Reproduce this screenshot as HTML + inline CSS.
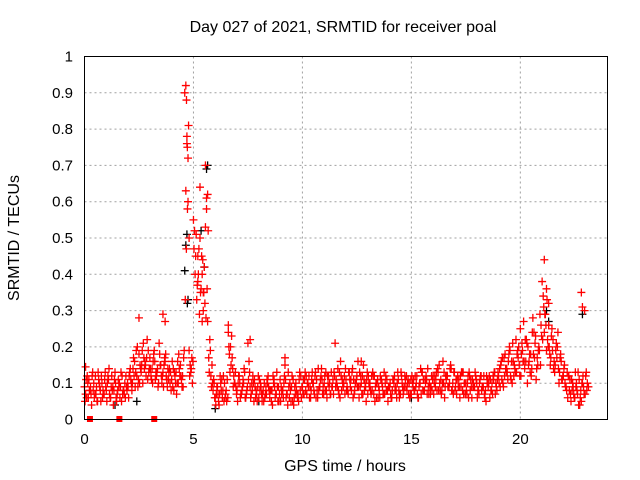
<!DOCTYPE html>
<html><head><meta charset="utf-8"><style>
body{margin:0;background:#fff}
svg{display:block;font-family:"Liberation Sans",sans-serif}
</style></head><body>
<svg id="c" width="640" height="480">
<rect width="640" height="480" fill="#fff"/>
<text x="343" y="32" font-size="16" text-anchor="middle">Day 027 of 2021, SRMTID for receiver poal</text>
<text transform="translate(19,238) rotate(-90)" font-size="16" text-anchor="middle">SRMTID / TECUs</text>
<text x="345" y="471" font-size="16" text-anchor="middle">GPS time / hours</text>
<g id="grid"></g><g id="ticks"></g><g id="black"></g><g id="red"></g>
<rect x="84.5" y="56.5" width="523" height="363" fill="none" stroke="#000"/>
</svg>
<script>
const xTicks=[0,5,10,15,20];
const yTicks=[0,0.1,0.2,0.3,0.4,0.5,0.6,0.7,0.8,0.9,1];
const yTickLabels=["0","0.1","0.2","0.3","0.4","0.5","0.6","0.7","0.8","0.9","1"];
const redA=[.09,.06,.11,.07,.08,.12,.05,.09,.10,.07,.08,.11,.06,.09,.13,.07,.10,.05,.08,.12,.09,.14,.10,.16,.12,.18,.13,.21,.15,.11,.17,.14,.19,.12,.10,.15,.13,.16,.09,.14,.11,.08,.13,.10,.15,.12,.90,.76,.19,.14,.55,.45,.38,.50,.27,.42,.61,.17,.12,.08,.06,.09,.07,.11,.05,.08,.24,.20,.14,.10,.08,.12,.07,.10,.06,.21,.09,.08,.11,.07,.06,.09,.08,.07,.10,.06,.08,.11,.07,.09,.05,.08,.15,.07,.06,.09,.04,.10,.07,.08,.09,.11,.07,.12,.08,.10,.13,.06,.09,.11,.10,.08,.12,.07,.11,.21,.09,.13,.08,.10,.11,.07,.09,.14,.08,.12,.06,.10,.15,.09,.07,.10,.08,.12,.06,.09,.11,.07,.10,.08,.09,.06,.10,.08,.11,.07,.09,.12,.08,.10,.07,.11,.09,.06,.10,.13,.08,.11,.07,.09,.12,.09,.14,.10,.08,.13,.11,.09,.15,.10,.08,.11,.09,.13,.07,.10,.12,.08,.11,.09,.10,.07,.12,.09,.08,.11,.06,.10,.13,.09,.12,.15,.10,.18,.13,.20,.16,.12,.22,.17,.25,.19,.14,.21,.16,.12,.18,.23,.15,.29,.38,.24,.19,.26,.17,.22,.15,.20,.13,.11,.14,.09,.12,.07,.10,.06,.08,.11,.05,.09,.12];
const redB=[.07,.10,.08,.12,.06,.09,.11,.05,.08,.13,.10,.07,.12,.08,.06,.11,.09,.07,.10,.08,.12,.10,.17,.13,.09,.15,.19,.14,.17,.13,.12,.16,.11,.14,.18,.10,.15,.12,.11,.13,.09,.12,.10,.14,.11,.17,.63,.72,.15,.10,.52,.33,.47,.36,.30,.53,.27,.22,.15,.10,.07,.05,.10,.08,.06,.11,.18,.23,.12,.09,.10,.06,.09,.13,.08,.16,.07,.10,.06,.09,.08,.05,.10,.07,.09,.08,.12,.06,.09,.07,.07,.10,.06,.13,.08,.05,.09,.07,.11,.06,.11,.08,.10,.09,.13,.07,.11,.08,.12,.09,.08,.12,.10,.09,.13,.11,.08,.16,.10,.07,.09,.13,.08,.11,.10,.16,.09,.12,.08,.11,.10,.07,.12,.09,.11,.06,.10,.13,.08,.09,.07,.11,.08,.10,.06,.12,.08,.09,.11,.07,.10,.08,.12,.09,.07,.11,.10,.14,.09,.08,.10,.13,.08,.11,.16,.09,.12,.10,.08,.13,.11,.09,.12,.08,.10,.07,.13,.09,.10,.12,.08,.11,.09,.07,.12,.10,.08,.12,.07,.11,.14,.11,.17,.13,.16,.12,.21,.14,.18,.15,.18,.27,.16,.20,.13,.24,.17,.14,.20,.26,.34,.29,.22,.18,.25,.16,.21,.14,.18,.12,.10,.13,.08,.11,.07,.09,.13,.06,.10,.30,.08];
const redC=[.05,.12,.08,.04,.10,.07,.13,.08,.06,.11,.05,.14,.09,.04,.10,.08,.06,.12,.07,.09,.06,.11,.14,.09,.20,.10,.15,.17,.12,.19,.14,.10,.16,.13,.21,.12,.09,.18,.14,.10,.16,.13,.07,.18,.12,.09,.33,.58,.12,.17,.47,.51,.40,.35,.44,.32,.36,.13,.09,.11,.04,.07,.12,.06,.10,.05,.20,.15,.09,.13,.05,.10,.08,.14,.07,.11,.06,.12,.09,.05,.11,.07,.05,.09,.12,.08,.04,.09,.13,.05,.09,.06,.11,.04,.10,.12,.06,.08,.05,.12,.07,.13,.10,.06,.11,.08,.06,.14,.11,.07,.12,.06,.09,.13,.07,.09,.14,.06,.11,.12,.08,.13,.11,.06,.10,.09,.13,.07,.11,.05,.12,.08,.13,.05,.10,.08,.11,.07,.12,.05,.10,.08,.12,.06,.08,.13,.07,.11,.10,.06,.12,.08,.10,.06,.14,.08,.11,.07,.10,.12,.07,.11,.13,.08,.10,.06,.12,.09,.14,.07,.09,.12,.06,.13,.10,.08,.06,.11,.09,.13,.06,.10,.08,.12,.05,.09,.11,.07,.13,.08,.10,.16,.09,.14,.11,.19,.10,.15,.13,.20,.12,.16,.22,.10,.18,.14,.24,.11,.19,.15,.22,.29,.33,.20,.23,.14,.19,.24,.17,.11,.15,.08,.12,.05,.09,.13,.07,.04,.10,.07,.13,.09];
const redD=[.11,.06,.09,.13,.07,.05,.10,.12,.07,.09,.12,.06,.08,.11,.05,.09,.13,.08,.06,.10,.13,.08,.12,.19,.11,.14,.10,.16,.22,.14,.11,.18,.13,.09,.15,.12,.17,.11,.13,.08,.14,.10,.16,.12,.09,.19,.47,.81,.13,.16,.40,.37,.29,.45,.35,.28,.52,.19,.10,.06,.09,.04,.08,.12,.07,.06,.13,.17,.10,.07,.12,.07,.11,.06,.09,.13,.10,.05,.08,.12,.10,.07,.06,.11,.08,.05,.10,.07,.05,.11,.08,.12,.07,.09,.05,.11,.07,.06,.13,.09,.07,.12,.09,.06,.10,.12,.08,.09,.14,.07,.13,.10,.07,.09,.12,.10,.07,.12,.09,.14,.08,.11,.13,.07,.11,.09,.12,.07,.10,.13,.09,.12,.07,.10,.06,.12,.09,.07,.11,.09,.06,.11,.09,.13,.07,.10,.09,.12,.07,.11,.09,.12,.07,.10,.13,.08,.12,.09,.07,.11,.12,.08,.15,.07,.10,.12,.09,.14,.08,.13,.07,.11,.09,.13,.07,.10,.12,.06,.09,.11,.08,.12,.09,.06,.10,.12,.08,.11,.10,.13,.09,.17,.12,.14,.18,.11,.16,.13,.19,.12,.21,.16,.22,.15,.18,.28,.21,.17,.19,.23,.31,.26,.20,.15,.19,.13,.17,.10,.16,.12,.09,.06,.11,.08,.06,.10,.04,.08,.12,.07,.10];
const redExtraHours=[4.65,4.7,4.72,4.75,4.8,5.3,5.6,5.65,5.55,2.5,3.6,3.7,6.6,7.6,21.1,21.2,21.3,22.8,22.85,9.2,12.7,0.05,5.4,5.45,5.2,4.68];
const redExtraValues=[.92,.78,.75,.60,.50,.64,.58,.62,.70,.28,.29,.27,.26,.22,.44,.36,.32,.35,.31,.17,.16,.145,.40,.35,.45,.88];
const blackHours=[4.65,4.6,4.7,4.75,5.65,5.6,21.2,22.85,1.4,2.4,6.0,8.0,15.0,4.72,5.35,5.5,21.3];
const blackValues=[.48,.41,.51,.33,.70,.69,.30,.29,.04,.05,.03,.05,.06,.32,.52,.42,.27];
const zeroHours=[0.25,1.6,3.2];
const X=h=>84.5+h*523/24, Y=v=>419.5-v*363;
const ns="http://www.w3.org/2000/svg";
function mk(tag,attrs,parent){const e=document.createElementNS(ns,tag);for(const k in attrs)e.setAttribute(k,attrs[k]);parent.appendChild(e);return e;}
const grid=document.getElementById('grid'),ticks=document.getElementById('ticks');
xTicks.forEach(t=>{
 if(t>0){const g=mk('line',{x1:X(t),x2:X(t),y1:56.5,y2:419.5,stroke:'#a0a0a0','stroke-dasharray':'2,3'},grid);
 
 }
 const l=mk('text',{x:X(t),y:444,'font-size':15,'text-anchor':'middle'},ticks);l.textContent=t;
 
 
});
yTicks.forEach((t,i)=>{
 if(t>0&&t<1){const g=mk('line',{x1:84.5,x2:607.5,y1:Y(t),y2:Y(t),stroke:'#a0a0a0','stroke-dasharray':'2,3'},grid);
 
 }
 const l=mk('text',{x:73,y:Y(t)+5,'font-size':15,'text-anchor':'end'},ticks);l.textContent=yTickLabels[i];
 
 
});
function plus(h,v,col,parent){const x=X(h),y=Y(v);
 const p=mk('path',{d:`M${x-4},${y}H${x+4}M${x},${y-4}V${y+4}`,stroke:col,'stroke-width':1.3,fill:'none'},parent);
 
 }
const bl=document.getElementById('black'),rd=document.getElementById('red');
blackHours.forEach((h,i)=>plus(h,blackValues[i],'#000',bl));
redA.forEach((v,i)=>plus(i*0.1,v,'#f00',rd));
redB.forEach((v,i)=>plus(i*0.1+0.05,v,'#f00',rd));
redC.forEach((v,i)=>plus(i*0.1+0.025,v,'#f00',rd));
redD.forEach((v,i)=>plus(i*0.1+0.075,v,'#f00',rd));
redExtraHours.forEach((h,i)=>plus(h,redExtraValues[i],'#f00',rd));
zeroHours.forEach(h=>{const r=mk('rect',{x:X(h)-3,y:416,width:6,height:6,fill:'#f00'},rd);
 
 });
</script>
</body></html>
